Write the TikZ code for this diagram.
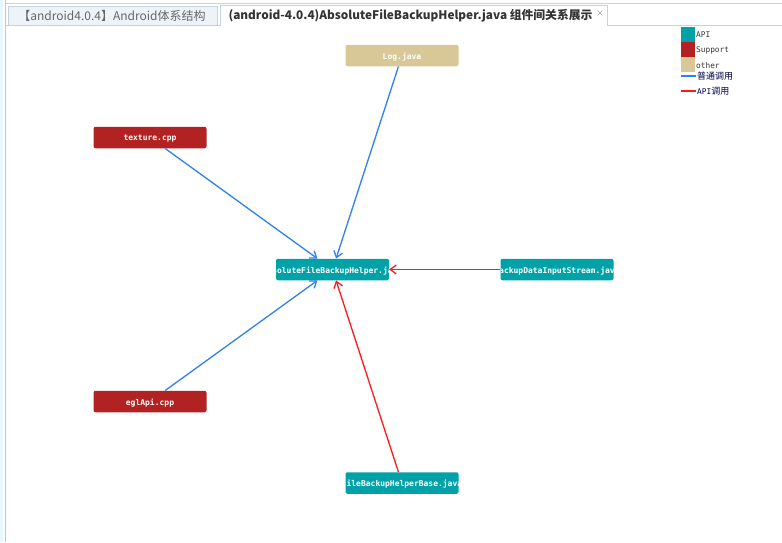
\documentclass[tikz,border=0pt]{standalone}
\usepackage{fontspec}
\newfontfamily\monof{DejaVu Sans Mono}
\newfontfamily\cjk{Noto Sans CJK SC}
\usetikzlibrary{arrows.meta}
\definecolor{apicol}{HTML}{00A2A8}
\definecolor{supcol}{HTML}{B22222}
\definecolor{othcol}{HTML}{D9C897}
\definecolor{bluel}{HTML}{2F80F0}
\definecolor{redl}{HTML}{FF1A1A}
\definecolor{tabborder}{HTML}{C8D2DE}
\definecolor{tabfill}{HTML}{EEF3FA}
\tikzset{
  box/.style={rounded corners=2pt, minimum width=113pt, minimum height=21.5pt, inner sep=0pt, text=white},
  apibox/.style={box, fill=apicol},
  supbox/.style={box, fill=supcol},
  othbox/.style={box, fill=othcol},
  lbl/.style={path picture={\node[text=white, yshift=-1.2pt, font=\monof\bfseries\fontsize{8}{9}\selectfont] at (path picture bounding box.center) {#1};}},
  calln/.style={draw=bluel, line width=1.3pt, -{Straight Barb[length=6pt,width=9pt,line width=1.3pt]}},
  calla/.style={draw=redl, line width=1.3pt, -{Straight Barb[length=6pt,width=9pt,line width=1.3pt]}},
  legtxt/.style={anchor=west, inner sep=0pt, text=black!80, font=\monof\fontsize{7.8}{9}\selectfont},
}
\begin{document}
\begin{tikzpicture}[x=1pt,y=-1pt]
\useasboundingbox (0,0) rectangle (782,542);
\fill[white] (0,0) rectangle (782,542);
% window frame
\fill[cyan!10] (0,0) rectangle (2.5,542);
\draw[black!22, line width=0.8pt] (5.5,0) -- (5.5,542);
\draw[tabborder, line width=0.8pt] (5.5,3) -- (782,3);
\draw[tabborder, line width=0.8pt] (5.5,25) -- (220,25);
\draw[tabborder, line width=0.8pt] (607,25) -- (782,25);
% tabs
\node[draw=tabborder, fill=tabfill, line width=0.8pt, anchor=north west, minimum width=209pt, minimum height=19pt, inner sep=0pt] (tab1) at (7.5,6) {};
\node[text=black!60, font=\cjk\fontsize{12}{14}\selectfont, inner sep=0pt] (tab1t) at (112,15.5) {【android4.0.4】Android体系结构};
\path[draw=tabborder, fill=white, line width=0.8pt] (220,25.5) -- (220,5) -- (607,5) -- (607,25.5);
\node[text=black!80, font=\cjk\bfseries\fontsize{11.8}{14}\selectfont, inner sep=0pt] (tab2t) at (410.5,15.5) {(android-4.0.4)AbsoluteFileBackupHelper.java 组件间关系展示};
\node[text=black!45, font=\cjk\fontsize{8}{9}\selectfont, inner sep=0pt] (tabx) at (600,14) {×};
% nodes
\node[othbox, lbl={Log.java}] (log) at (402,55.5) {};
\node[supbox, lbl={texture.cpp}] (tex) at (150,137.5) {};
\node[apibox, lbl={AbsoluteFileBackupHelper.java}] (main) at (332.5,269.5) {};
\node[apibox, lbl={BackupDataInputStream.java}] (bdis) at (557,269.5) {};
\node[supbox, lbl={eglApi.cpp}] (egl) at (150,401.5) {};
\node[apibox, lbl={FileBackupHelperBase.java}] (fbhb) at (402,483) {};
% connectors
\draw[calln] (log) -- (main);
\draw[calln] (tex) -- (main);
\draw[calln] (egl) -- (main);
\draw[calla] (bdis) -- (main);
\draw[calla] (fbhb) -- (main);
% legend
\node[fill=apicol, minimum width=14pt, minimum height=15pt, inner sep=0pt, anchor=north west] (lg1) at (681,27) {};
\node[fill=supcol, minimum width=14pt, minimum height=15pt, inner sep=0pt, anchor=north west] (lg2) at (681,42) {};
\node[fill=othcol, minimum width=14pt, minimum height=15pt, inner sep=0pt, anchor=north west] (lg3) at (681,57) {};
\node[legtxt] (lt1) at (696,35) {API};
\node[legtxt] (lt2) at (696,50) {Support};
\node[legtxt] (lt3) at (696,65.5) {other};
\coordinate (lb1) at (681,76);
\coordinate (lb2) at (696,76);
\draw[draw=bluel, line width=1.2pt] (lb1) -- (lb2);
\node[anchor=west, inner sep=0pt, text=blue!30!black, font=\cjk\fontsize{9}{10}\selectfont] (lt4) at (697,76.5) {普通调用};
\coordinate (lr1) at (681,91);
\coordinate (lr2) at (696,91);
\draw[draw=redl, line width=1.2pt] (lr1) -- (lr2);
\node[anchor=west, inner sep=0pt, text=blue!30!black, font=\cjk\fontsize{9}{10}\selectfont] (lt5) at (697,91.5) {{\monof\fontsize{7.8}{9}\selectfont API}调用};
\end{tikzpicture}
\end{document}
